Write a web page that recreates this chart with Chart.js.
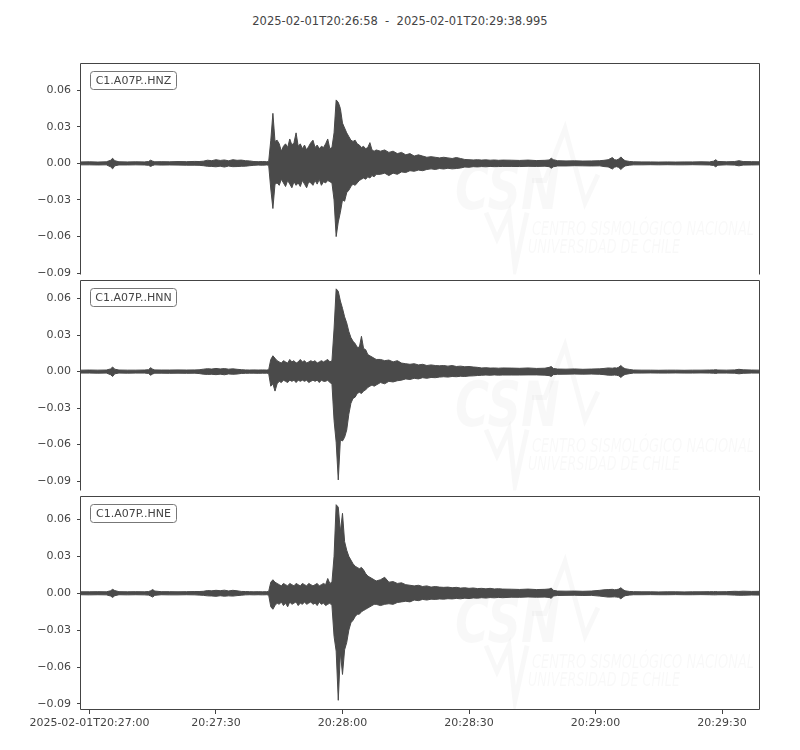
<!DOCTYPE html>
<html><head><meta charset="utf-8">
<script src="https://cdn.jsdelivr.net/npm/chart.js@4/dist/chart.umd.min.js"></script>
<style>
html,body{margin:0;padding:0;background:#fff;}
#wrap{position:relative;width:800px;height:750px;overflow:hidden;background:#fff;}
#title{position:absolute;left:0;top:14px;width:800px;text-align:center;font:11.5px "DejaVu Sans";line-height:14px;color:#444;white-space:pre;}
#warn{position:absolute;left:0;top:0;color:red;font:12px sans-serif;}
canvas{position:absolute;left:0;}
</style></head><body>
<div id="wrap"><div id="title"></div><div id="warn"></div>
<canvas id="c0"></canvas><canvas id="c1"></canvas><canvas id="c2"></canvas></div>
<script>
// ---- data (seconds after 2025-02-01T20:26:58, envelope of ground motion) ----
const titleText = '2025-02-01T20:26:58  -  2025-02-01T20:29:38.995';
const channels = ['C1.A07P..HNZ', 'C1.A07P..HNN', 'C1.A07P..HNE'];
const xTickValues = [2, 32, 62, 92, 122, 152];
const xTickLabels = ['2025-02-01T20:27:00', '20:27:30', '20:28:00', '20:28:30', '20:29:00', '20:29:30'];
const yTickValues = [-0.09, -0.06, -0.03, 0, 0.03, 0.06];
const xMax = 160.995;

const times = [
 0,2,4,6,7,7.5,8,9,11,13,15,16,16.5,17,17.5,19,21,23,25,27,28,29,30,31,32,33,34,35,36,37,38,39,40,41,42,43,44,
 44.5,45,45.5,46,46.5,47,47.5,48,48.5,49,49.5,50,50.5,51,51.5,52,52.5,53,53.5,54,54.5,55,55.5,56,56.5,57,57.5,58,58.5,59,59.5,60,60.5,61,61.5,62,62.5,63,63.5,64,64.5,65,65.5,66,66.5,67,67.5,68,68.5,69,69.5,70,
 71,72,73,74,75,76,77,78,79,80,81,82,83,84,85,86,87,88,89,90,91,92,93,94,95,96,97,98,99,100,
 102,104,106,108,110,111,111.5,112,113,115,117,119,121,123,124,125,126,126.5,127,127.5,128,128.5,129,130,131,133,135,137,139,141,143,145,147,149,150,150.5,151,153,155,156,157,159,161
];

const hnzHi = [
 .0012,.0013,.0011,.0013,.0025,.0042,.0022,.0013,.0012,.0013,.0012,.0015,.0026,.0018,.0013,.0014,.0013,.0015,.0014,.0016,.0015,.0018,.0026,.0022,.0030,.0024,.0028,.0021,.0030,.0025,.0027,.0022,.0020,.0015,.0014,.0015,.0014,
 .0015,.019,.041,.018,.019,.016,.010,.014,.016,.013,.020,.015,.017,.025,.014,.016,.012,.015,.011,.014,.017,.019,.013,.015,.012,.014,.013,.016,.020,.012,.013,.025,.052,.050,.045,.033,.029,.025,.022,.019,.018,.019,.016,.015,.013,.014,.012,.013,.017,.011,.010,.011,
 .010,.011,.009,.010,.008,.009,.007,.008,.006,.007,.006,.005,.0055,.005,.0045,.005,.0045,.004,.0048,.004,.0032,.003,.0028,.003,.0027,.0029,.0026,.0028,.0025,.0027,
 .0026,.0024,.0027,.0023,.0025,.0028,.0042,.0030,.0022,.0020,.0021,.0019,.0020,.0022,.0025,.0030,.0048,.0030,.0028,.0035,.0053,.0035,.0022,.0016,.0013,.0012,.0012,.0011,.0012,.0011,.0012,.0012,.0013,.0012,.0018,.0030,.0016,.0013,.0015,.0022,.0015,.0014,.0013
];
const hnzLo = [
 -.0012,-.0012,-.0013,-.0012,-.0028,-.0045,-.0020,-.0013,-.0013,-.0012,-.0013,-.0016,-.0025,-.0017,-.0012,-.0014,-.0013,-.0014,-.0015,-.0015,-.0016,-.0019,-.0024,-.0025,-.0028,-.0023,-.0030,-.0022,-.0027,-.0026,-.0024,-.0023,-.0019,-.0016,-.0014,-.0015,-.0013,
 -.0015,-.021,-.037,-.017,-.016,-.018,-.013,-.016,-.019,-.014,-.017,-.020,-.015,-.018,-.016,-.019,-.014,-.017,-.020,-.015,-.016,-.018,-.014,-.017,-.013,-.018,-.015,-.016,-.014,-.015,-.016,-.030,-.060,-.048,-.040,-.030,-.031,-.024,-.022,-.019,-.017,-.018,-.016,-.014,-.013,-.012,-.013,-.011,-.012,-.010,-.011,-.009,
 -.009,-.008,-.010,-.008,-.009,-.007,-.0075,-.006,-.0065,-.0055,-.006,-.005,-.0045,-.005,-.0042,-.0046,-.004,-.0045,-.0042,-.0038,-.003,-.0032,-.0027,-.0029,-.0026,-.0028,-.0025,-.0027,-.0026,-.0025,
 -.0025,-.0026,-.0024,-.0025,-.0023,-.0027,-.0040,-.0028,-.0021,-.0021,-.0019,-.0020,-.0021,-.0020,-.0026,-.0029,-.0046,-.0031,-.0027,-.0033,-.0050,-.0034,-.0021,-.0015,-.0012,-.0012,-.0011,-.0012,-.0011,-.0012,-.0012,-.0011,-.0012,-.0013,-.0017,-.0028,-.0015,-.0012,-.0014,-.0020,-.0014,-.0013,-.0012
];

const hnnHi = [
 .0012,.0013,.0012,.0013,.0022,.0038,.0020,.0013,.0012,.0012,.0013,.0016,.0032,.0020,.0014,.0013,.0013,.0014,.0013,.0014,.0015,.0020,.0024,.0021,.0026,.0022,.0025,.0020,.0023,.0019,.0016,.0014,.0013,.0014,.0013,.0014,.0013,
 .0015,.010,.013,.011,.009,.008,.007,.009,.008,.007,.010,.008,.009,.007,.008,.010,.008,.009,.007,.008,.009,.008,.009,.007,.008,.009,.008,.009,.010,.008,.009,.035,.068,.066,.058,.052,.045,.040,.033,.028,.025,.023,.020,.020,.029,.019,.018,.014,.013,.012,.011,.010,
 .010,.009,.0095,.008,.009,.007,.0065,.006,.0065,.0055,.006,.005,.0055,.005,.0048,.005,.0045,.005,.0042,.0045,.004,.0042,.0038,.0035,.003,.0032,.0029,.003,.0028,.003,
 .0029,.0027,.003,.0026,.0028,.0035,.0042,.0026,.0021,.002,.0022,.0019,.0021,.0023,.0026,.003,.0028,.0031,.0029,.0036,.005,.0034,.0024,.0018,.0013,.0012,.0012,.0011,.0012,.0012,.0011,.0012,.0012,.0013,.0014,.0016,.0013,.0012,.0014,.0019,.0015,.0013,.0012
];
const hnnLo = [
 -.0012,-.0012,-.0013,-.0012,-.0025,-.0040,-.0018,-.0012,-.0013,-.0012,-.0012,-.0015,-.0030,-.0019,-.0013,-.0013,-.0014,-.0013,-.0014,-.0013,-.0016,-.0021,-.0023,-.0022,-.0025,-.0021,-.0026,-.0019,-.0022,-.0020,-.0015,-.0014,-.0013,-.0013,-.0014,-.0013,-.0013,
 -.0015,-.012,-.010,-.016,-.010,-.008,-.009,-.007,-.008,-.009,-.007,-.008,-.007,-.009,-.007,-.008,-.007,-.008,-.007,-.009,-.008,-.007,-.008,-.007,-.009,-.007,-.008,-.008,-.007,-.009,-.010,-.040,-.058,-.089,-.056,-.057,-.054,-.048,-.035,-.026,-.022,-.021,-.018,-.017,-.018,-.016,-.015,-.013,-.012,-.011,-.012,-.011,
 -.009,-.010,-.008,-.0085,-.0075,-.007,-.006,-.0065,-.0055,-.006,-.005,-.0055,-.0048,-.005,-.0045,-.0042,-.0045,-.004,-.0042,-.0038,-.004,-.0036,-.0035,-.0032,-.003,-.0028,-.003,-.0027,-.0029,-.0028,
 -.0028,-.0028,-.0027,-.0027,-.0029,-.0033,-.0040,-.0025,-.0022,-.0021,-.0020,-.0021,-.0020,-.0022,-.0025,-.0029,-.0030,-.0028,-.0030,-.0034,-.0048,-.0033,-.0023,-.0017,-.0012,-.0012,-.0011,-.0012,-.0012,-.0011,-.0012,-.0012,-.0011,-.0012,-.0013,-.0015,-.0012,-.0012,-.0013,-.0018,-.0014,-.0012,-.0012
];

const hneHi = [
 .0012,.0012,.0013,.0012,.0020,.0032,.0022,.0013,.0012,.0013,.0012,.0014,.0020,.0030,.0018,.0013,.0013,.0012,.0013,.0014,.0014,.0016,.0022,.0020,.0024,.0021,.0025,.0019,.0024,.0020,.0015,.0014,.0013,.0012,.0013,.0012,.0013,
 .0015,.009,.011,.009,.008,.007,.006,.008,.007,.006,.008,.007,.006,.008,.007,.006,.008,.007,.006,.008,.007,.006,.007,.008,.006,.007,.008,.007,.012,.008,.009,.030,.072,.070,.050,.065,.042,.035,.030,.027,.024,.022,.021,.020,.021,.019,.016,.014,.013,.012,.011,.010,
 .011,.013,.009,.0095,.008,.0085,.007,.0065,.006,.0065,.0055,.006,.005,.0055,.005,.0048,.005,.0045,.0048,.0042,.0045,.004,.0043,.0038,.004,.0036,.004,.0035,.0037,.0034,
 .0033,.0031,.0034,.003,.0032,.0035,.0042,.0024,.0018,.0017,.0018,.0016,.0018,.0024,.0028,.003,.0032,.0028,.003,.0034,.0045,.003,.002,.0015,.0013,.0012,.0012,.0011,.0012,.0012,.0011,.0012,.0012,.0013,.0013,.0014,.0012,.0013,.0016,.0015,.0017,.0015,.0016
];
const hneLo = [
 -.0012,-.0013,-.0012,-.0013,-.0022,-.0034,-.0020,-.0012,-.0013,-.0012,-.0013,-.0015,-.0022,-.0031,-.0017,-.0012,-.0013,-.0013,-.0012,-.0013,-.0015,-.0017,-.0021,-.0022,-.0025,-.0020,-.0024,-.0021,-.0023,-.0019,-.0016,-.0013,-.0012,-.0013,-.0012,-.0013,-.0012,
 -.0015,-.011,-.013,-.010,-.008,-.009,-.007,-.010,-.008,-.011,-.007,-.009,-.008,-.007,-.010,-.008,-.009,-.007,-.009,-.008,-.007,-.009,-.008,-.010,-.007,-.009,-.008,-.010,-.009,-.008,-.010,-.035,-.047,-.087,-.048,-.066,-.046,-.040,-.030,-.024,-.022,-.019,-.017,-.017,-.015,-.014,-.013,-.012,-.011,-.010,-.009,-.009,
 -.010,-.009,-.0085,-.009,-.0075,-.007,-.0065,-.007,-.0055,-.006,-.005,-.0055,-.0048,-.005,-.0046,-.0048,-.0044,-.0046,-.0042,-.0045,-.004,-.0043,-.0038,-.004,-.0036,-.0039,-.0035,-.0037,-.0034,-.0036,
 -.0032,-.0033,-.003,-.0032,-.0031,-.0034,-.0041,-.0022,-.0018,-.0017,-.0016,-.0018,-.0017,-.0023,-.0027,-.0031,-.003,-.0029,-.0031,-.0033,-.0045,-.0031,-.002,-.0015,-.0012,-.0012,-.0011,-.0012,-.0012,-.0011,-.0012,-.0012,-.0011,-.0012,-.0013,-.0013,-.0012,-.0012,-.0015,-.0016,-.0016,-.0014,-.0015
];

const yRanges = [[-0.0910, 0.0826], [-0.0976, 0.0756], [-0.0949, 0.0794]];

// ---- layout / style ----
const panelTops = [60, 277, 493];
const panelBottoms = [277, 493, 710];
const WAVE = '#4a4a4a';
const TXT = '#444444';
const FONT = 'DejaVu Sans';

document.getElementById('title').textContent = titleText;

const series = [[hnzHi, hnzLo], [hnnHi, hnnLo], [hneHi, hneLo]];
const bad = series.some(s => s[0].length !== times.length || s[1].length !== times.length);
if (bad) document.getElementById('warn').textContent = 'LEN ' + times.length + ' ' + series.map(s => s[0].length + '/' + s[1].length).join(' ');

function fmtY(v) {
  const s = Number(v).toFixed(2);
  return (Math.abs(v) < 1e-9 ? '0.00' : s).replace('-', '\u2212');
}

function fitText(ctx, text, x, y, w, font) {
  ctx.font = font;
  const m = ctx.measureText(text).width;
  ctx.save();
  ctx.translate(x, y);
  ctx.scale(w / m, 1);
  ctx.fillText(text, 0, 0);
  ctx.restore();
}

function makeDeco(idx, last) {
  return {
    id: 'deco' + idx,
    beforeDatasetsDraw(chart) {
      const {ctx, chartArea: a} = chart;
      ctx.save();
      ctx.beginPath(); ctx.rect(a.left, a.top, a.right - a.left, a.bottom - a.top); ctx.clip();
      ctx.fillStyle = 'rgba(0,0,0,0.028)';
      ctx.textBaseline = 'alphabetic';
      fitText(ctx, 'CSN', 455, a.top + 146, 105, 'italic bold 62px "DejaVu Sans"');
      fitText(ctx, 'CENTRO SISMOLÓGICO NACIONAL', 532, a.top + 172, 222, 'italic 20px "DejaVu Sans"');
      fitText(ctx, 'UNIVERSIDAD DE CHILE', 528, a.top + 190, 152, 'italic 20px "DejaVu Sans"');
      ctx.strokeStyle = 'rgba(0,0,0,0.028)';
      ctx.lineWidth = 5;
      ctx.beginPath();
      ctx.moveTo(532, a.top + 118); ctx.lineTo(545, a.top + 118); ctx.lineTo(565, a.top + 66);
      ctx.lineTo(585, a.top + 140); ctx.lineTo(598, a.top + 112);
      ctx.moveTo(486, a.top + 150); ctx.lineTo(497, a.top + 176); ctx.lineTo(509, a.top + 150);
      ctx.lineTo(515, a.top + 205); ctx.lineTo(527, a.top + 150);
      ctx.stroke();
      ctx.restore();
    },
    afterDraw(chart) {
      const {ctx, chartArea: a} = chart;
      ctx.save();
      ctx.strokeStyle = '#444';
      ctx.lineWidth = 1;
      ctx.beginPath();
      const L = a.left - 0.5, R = a.right - 0.5, T = Math.round(a.top) + 0.5, B = Math.round(a.bottom) - 0.5;
      ctx.moveTo(L, B + (last ? 0 : 1)); ctx.lineTo(L, T); ctx.lineTo(R, T); ctx.lineTo(R, B + (last ? 0 : 1));
      if (last) { ctx.lineTo(L, B); }
      ctx.stroke();
      // channel label box
      const bx = a.left + 9.5, by = Math.round(a.top) + 8.5, bw = 86, bh = 18, r = 3;
      ctx.beginPath();
      ctx.moveTo(bx + r, by); ctx.lineTo(bx + bw - r, by); ctx.arcTo(bx + bw, by, bx + bw, by + r, r);
      ctx.lineTo(bx + bw, by + bh - r); ctx.arcTo(bx + bw, by + bh, bx + bw - r, by + bh, r);
      ctx.lineTo(bx + r, by + bh); ctx.arcTo(bx, by + bh, bx, by + bh - r, r);
      ctx.lineTo(bx, by + r); ctx.arcTo(bx, by, bx + r, by, r);
      ctx.closePath();
      ctx.fillStyle = '#fff'; ctx.fill();
      ctx.strokeStyle = '#777'; ctx.stroke();
      ctx.fillStyle = TXT;
      ctx.font = '11px "DejaVu Sans"';
      ctx.textAlign = 'center'; ctx.textBaseline = 'middle';
      ctx.fillText(channels[idx], bx + bw / 2, by + bh / 2 + 0.5);
      ctx.restore();
    }
  };
}

for (let i = 0; i < 3; i++) {
  const last = i === 2;
  const cv = document.getElementById('c' + i);
  const h = (panelBottoms[i] - panelTops[i]) + 10 + (last ? 40 : 10);
  cv.width = 800; cv.height = h;
  cv.style.width = '800px'; cv.style.height = h + 'px';
  cv.style.top = (panelTops[i] - 10) + 'px';
  const [hi, lo] = series[i];
  new Chart(cv.getContext('2d'), {
    type: 'line',
    data: {
      datasets: [
        {data: times.map((t, k) => ({x: t, y: hi[k]})), borderColor: WAVE, backgroundColor: WAVE,
         borderWidth: 1, pointRadius: 0, fill: '+1', tension: 0},
        {data: times.map((t, k) => ({x: t, y: lo[k]})), borderColor: WAVE, backgroundColor: WAVE,
         borderWidth: 1, pointRadius: 0, fill: false, tension: 0}
      ]
    },
    options: {
      responsive: false, animation: false, devicePixelRatio: 1,
      layout: {padding: {left: 0, right: 40, top: 10, bottom: last ? 0 : 10}},
      plugins: {legend: {display: false}, tooltip: {enabled: false}},
      scales: {
        x: {
          type: 'linear', min: 0, max: xMax, display: last,
          afterFit(s) { s.height = last ? 40 : 0; },
          afterBuildTicks(s) { s.ticks = xTickValues.map(v => ({value: v})); },
          ticks: {autoSkip: false, maxRotation: 0, padding: 3, color: TXT,
                  font: {family: FONT, size: 11},
                  callback: (v, k) => xTickLabels[xTickValues.indexOf(v)] ?? ''},
          grid: {display: true, drawOnChartArea: false, drawTicks: true, tickLength: 4, color: '#444'},
          border: {display: false}
        },
        y: {
          min: yRanges[i][0], max: yRanges[i][1],
          afterFit(s) { s.width = 81; },
          afterBuildTicks(s) { s.ticks = yTickValues.map(v => ({value: v})); },
          ticks: {padding: 6, color: TXT, font: {family: FONT, size: 11}, callback: v => fmtY(v)},
          grid: {display: true, drawOnChartArea: false, drawTicks: true, tickLength: 4, color: '#444'},
          border: {display: false}
        }
      }
    },
    plugins: [makeDeco(i, last)]
  });
}
</script>
</body></html>
